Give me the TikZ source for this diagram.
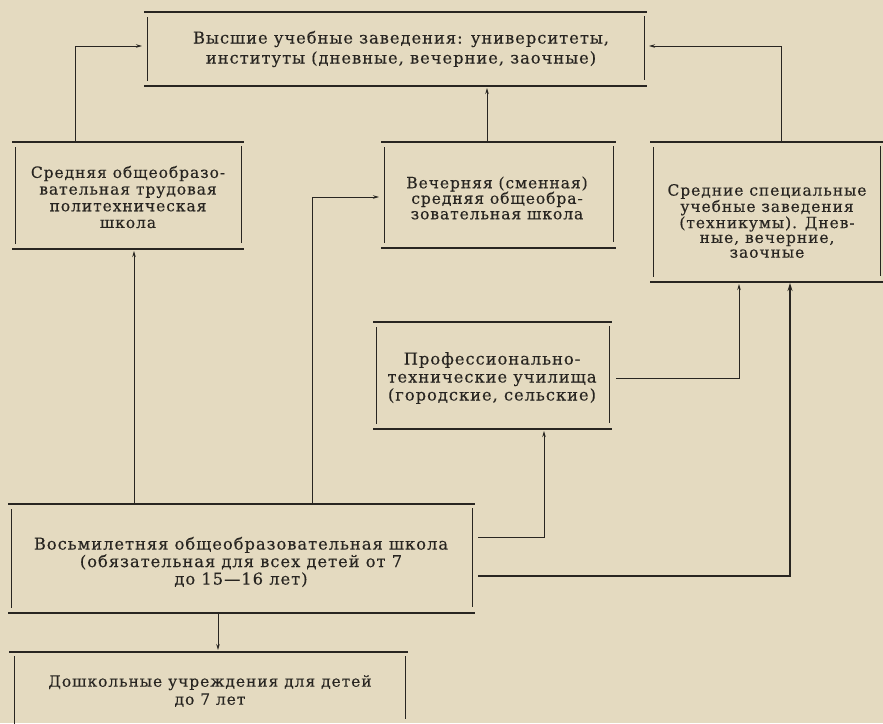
\documentclass[tikz,border=0pt]{standalone}
\usepackage{fontspec}
\usetikzlibrary{arrows.meta,calc}
\newfontfamily\widefont[LetterSpace=6,FakeBold=0.3]{DejaVu Serif}
\definecolor{paper}{RGB}{228,218,192}
\definecolor{ink}{RGB}{40,37,33}
\newcommand\boxlines[1]{%
  \draw[hline] (#1.north west) -- (#1.north east);
  \draw[hline] (#1.south west) -- (#1.south east);
  \draw[vline] ($(#1.north west)+(3,5)$) -- ($(#1.south west)+(3,-5)$);
  \draw[vline] ($(#1.north east)+(-3,4)$) -- ($(#1.south east)+(-3,-6)$);
}
\begin{document}
\begin{tikzpicture}[x=1pt,y=-1pt,
  boxarea/.style={rectangle,inner sep=0pt,outer sep=0pt},
  hline/.style={ink,line width=1.6pt},
  vline/.style={ink,line width=0.9pt},
  wtxt/.style={align=center,text=ink,inner sep=0pt},
  fs/.style={font=\widefont\fontsize{15.5}{#1}\selectfont},
  fsb/.style={font=\widefont\fontsize{16.3}{#1}\selectfont},
  arr/.style={ink,line width=0.9pt,-{Stealth[length=6pt,width=3.5pt]},shorten >=2pt},
  arrB/.style={ink,line width=1.2pt,-{Stealth[length=8pt,width=5pt]},shorten >=1pt}]
\useasboundingbox[fill=paper] (0,0) rectangle (883,723);
% boxes
\node[boxarea,minimum width=503pt,minimum height=74pt] (hi) at (395.5,49) {};
\node[boxarea,minimum width=232pt,minimum height=107pt] (sred) at (128,195.5) {};
\node[boxarea,minimum width=235pt,minimum height=106pt] (vech) at (498.5,195) {};
\node[boxarea,minimum width=233pt,minimum height=140pt] (spec) at (766.5,212) {};
\node[boxarea,minimum width=239pt,minimum height=107pt] (prof) at (492.5,375.5) {};
\node[boxarea,minimum width=467pt,minimum height=109pt] (vos) at (241.5,558.5) {};
\node[boxarea,minimum width=399pt,minimum height=71pt] (dosh) at (208.5,687.5) {};
\boxlines{hi}
\boxlines{sred}
\boxlines{vech}
\boxlines{spec}
\boxlines{prof}
\boxlines{vos}
\draw[hline] (dosh.north west) -- (dosh.north east);
\draw[vline] ($(dosh.north west)+(5,4)$) -- ($(dosh.south west)+(5,2)$);
\draw[vline] ($(dosh.north east)+(-3,4)$) -- ($(dosh.south east)+(-3,-4)$);
% texts
\node[wtxt,fsb=20] (hiT) at (401,49) {Высшие учебные заведения: университеты,\\институты (дневные, вечерние, заочные)};
\node[wtxt,fs=16.7] (sredT) at (128,197) {Средняя общеобразо-\\вательная трудовая\\политехническая\\школа};
\node[wtxt,fs=15.5] (vechT) at (497,198) {Вечерняя (сменная)\\средняя общеобра-\\зовательная школа};
\node[wtxt,fs=14.8] (specT) at (767,221) {Средние специальные\\учебные заведения\\(техникумы). Днев-\\ные, вечерние,\\заочные};
\node[wtxt,fsb=18] (profT) at (492,378) {Профессионально-\\технические училища\\(городские, сельские)};
\node[wtxt,fsb=17.5] (vosT) at (241,562) {Восьмилетняя общеобразовательная школа\\(обязательная для всех детей от 7\\до 15—16 лет)};
\node[wtxt,fs=18] (doshT) at (210,691) {Дошкольные учреждения для детей\\до 7 лет};
% bend coordinates
\coordinate (b1) at (75,46);
\coordinate (b2) at (487,0);
\coordinate (b3) at (781,46);
\coordinate (b4) at (134,0);
\coordinate (b5) at (312,197);
\coordinate (b6) at (544,537);
\coordinate (b7) at (739,378);
\coordinate (b8) at (790,576);
\coordinate (b9) at (218,0);
% connectors
\draw[arr] (sred.north -| b1) |- (hi.west |- b1);
\draw[arr] (vech.north -| b2) -- (hi.south -| b2);
\draw[arr] (spec.north -| b3) |- (hi.east |- b3);
\draw[arr] (vos.north -| b4) -- (sred.south -| b4);
\draw[arr] (vos.north -| b5) |- (vech.west |- b5);
\draw[arr] ([xshift=3pt]vos.east |- b6) -| (prof.south -| b6);
\draw[arr] ([xshift=4pt]prof.east |- b7) -| (spec.south -| b7);
\draw[arrB] ([xshift=3pt]vos.east |- b8) -| (spec.south -| b8);
\draw[arr] (vos.south -| b9) -- (dosh.north -| b9);
\end{tikzpicture}
\end{document}
